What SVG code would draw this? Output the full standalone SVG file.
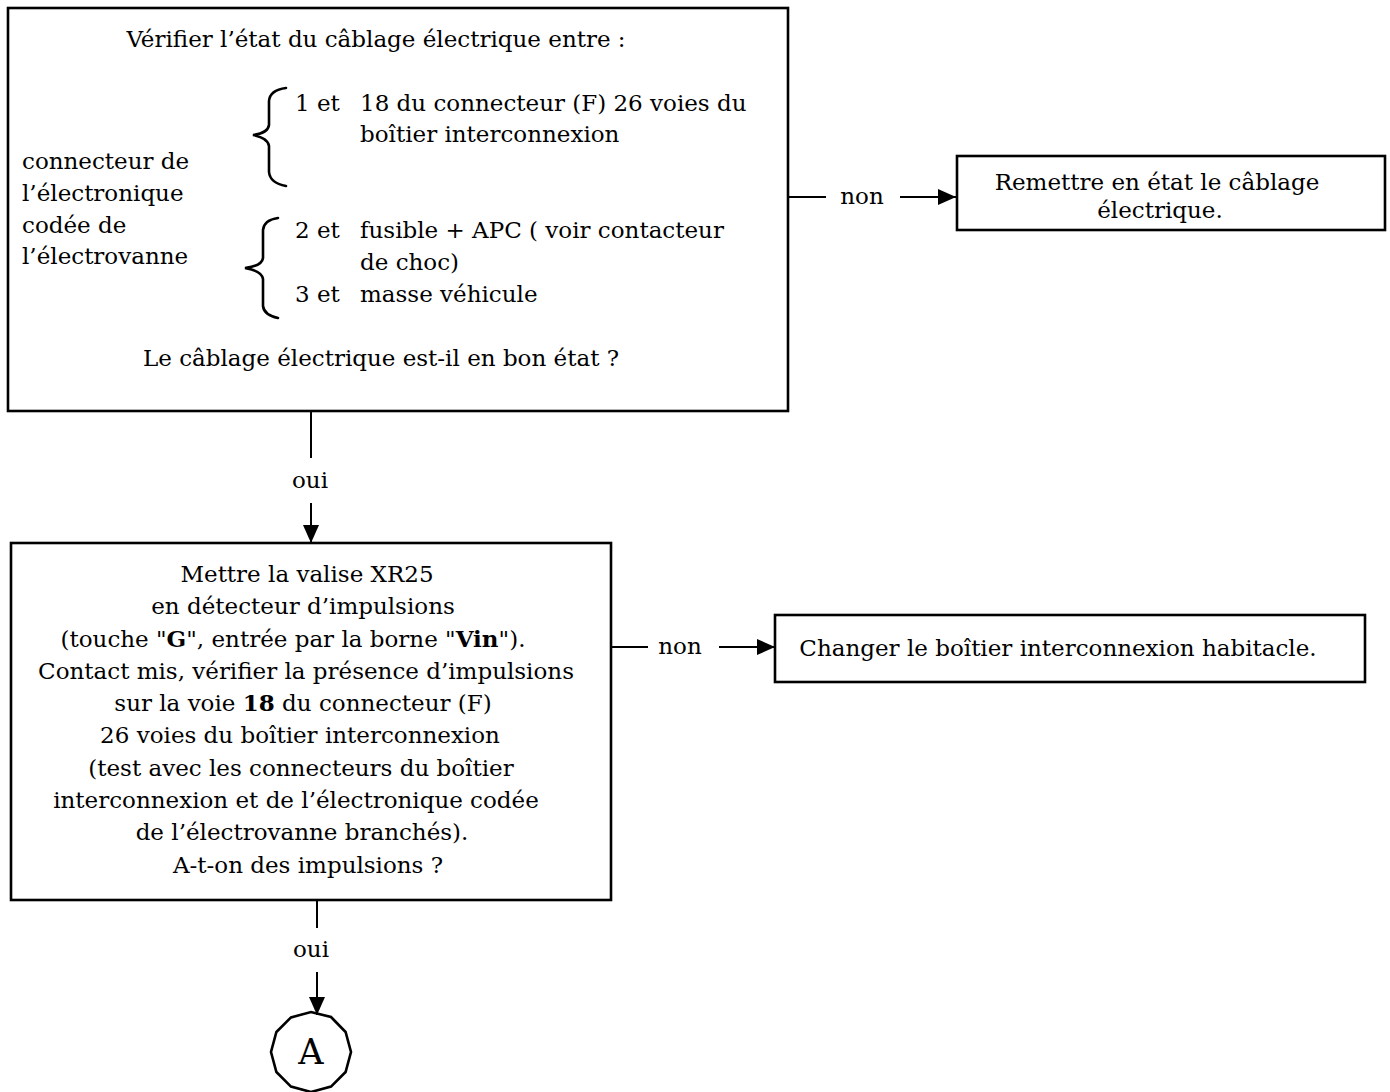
<svg xmlns="http://www.w3.org/2000/svg" width="1390" height="1092" viewBox="0 0 1390 1092">
<style>
text{font-family:"DejaVu Serif","Liberation Serif",serif;font-size:23px;fill:#000}
.m{text-anchor:middle}
.box{fill:#fff;stroke:#000;stroke-width:2.6}
.br{fill:none;stroke:#000;stroke-width:2.6;stroke-linecap:round}
.ln{fill:none;stroke:#000;stroke-width:2}
.lbl{font-size:23px;text-anchor:middle}
</style>
<defs>
<marker id="ah" markerUnits="userSpaceOnUse" markerWidth="20" markerHeight="16" refX="18" refY="8" orient="auto">
<path d="M0,0 L18,8 L0,16 Z" fill="#000"/>
</marker>
</defs>
<rect width="1390" height="1092" fill="#fff"/>
<g id="box1">
<rect class="box" x="8" y="8" width="780" height="403"/>
<text class="m" x="376" y="47">Vérifier l’état du câblage électrique entre  :</text>
<path class="br" d="M286,88 Q270,90 269,101 L269,125 Q268,133 253,135 Q268,138 269,146 L269,172 Q270,183 286,186"/>
<text x="295" y="111">1 et</text>
<text x="360" y="111">18 du connecteur (F) 26 voies du</text>
<text x="360" y="142">boîtier interconnexion</text>
<text x="22" y="169">connecteur de</text>
<text x="22" y="201">l’électronique</text>
<text x="22" y="233">codée de</text>
<text x="22" y="264">l’électrovanne</text>
<path class="br" d="M278,218 Q264,220 263,230 L263,258 Q262,266 245,268 Q262,271 263,279 L263,306 Q264,315 278,318"/>
<text x="295" y="238">2 et</text>
<text x="360" y="238">fusible + APC ( voir contacteur</text>
<text x="360" y="270">de choc)</text>
<text x="295" y="302">3 et</text>
<text x="360" y="302">masse véhicule</text>
<text class="m" x="381" y="366">Le câblage électrique est-il en bon état ?</text>
</g>
<g id="box2">
<rect class="box" x="957" y="156" width="428" height="74"/>
<text class="m" x="1157" y="190">Remettre en état le câblage</text>
<text class="m" x="1160" y="218">électrique.</text>
</g>
<g id="box3">
<rect class="box" x="11" y="543" width="600" height="357"/>
<text class="m" x="307" y="582">Mettre la valise XR25</text>
<text class="m" x="303" y="614">en détecteur d’impulsions</text>
<text class="m" x="293" y="647">(touche "<tspan font-weight="bold">G</tspan>", entrée par la borne "<tspan font-weight="bold">Vin</tspan>").</text>
<text class="m" x="306" y="679">Contact mis, vérifier la présence d’impulsions</text>
<text class="m" x="303" y="711">sur la voie <tspan font-weight="bold">18</tspan> du connecteur (F)</text>
<text class="m" x="300" y="743">26 voies du boîtier interconnexion</text>
<text class="m" x="301" y="776">(test avec les connecteurs du boîtier</text>
<text class="m" x="296" y="808">interconnexion et de l’électronique codée</text>
<text class="m" x="302" y="840">de l’électrovanne branchés).</text>
<text class="m" x="308" y="873">A-t-on des impulsions ?</text>
</g>
<g id="box4">
<rect class="box" x="775" y="615" width="590" height="67"/>
<text class="m" x="1058" y="656">Changer le boîtier interconnexion habitacle.</text>
</g>
<g id="nodeA">
<polygon class="box" points="331,1017 345.6,1032 351,1052 345.6,1072 331,1086.6 311,1092 291,1086.6 276.4,1072 271,1052 276.4,1032 291,1017.4 311,1012"/>
<text class="m" x="311" y="1064" style="font-size:35px">A</text>
</g>
<g id="connectors">
<line class="ln" x1="788" y1="197" x2="826" y2="197"/>
<text class="lbl" x="862" y="204">non</text>
<line class="ln" x1="900" y1="197" x2="956" y2="197" marker-end="url(#ah)"/>
<line class="ln" x1="311" y1="411" x2="311" y2="458"/>
<text class="lbl" x="310" y="488">oui</text>
<line class="ln" x1="311" y1="503" x2="311" y2="543" marker-end="url(#ah)"/>
<line class="ln" x1="611" y1="647" x2="648" y2="647"/>
<text class="lbl" x="680" y="654">non</text>
<line class="ln" x1="719" y1="647" x2="775" y2="647" marker-end="url(#ah)"/>
<line class="ln" x1="317" y1="900" x2="317" y2="928"/>
<text class="lbl" x="311" y="957">oui</text>
<line class="ln" x1="317" y1="972" x2="317" y2="1015" marker-end="url(#ah)"/>
</g>
</svg>
